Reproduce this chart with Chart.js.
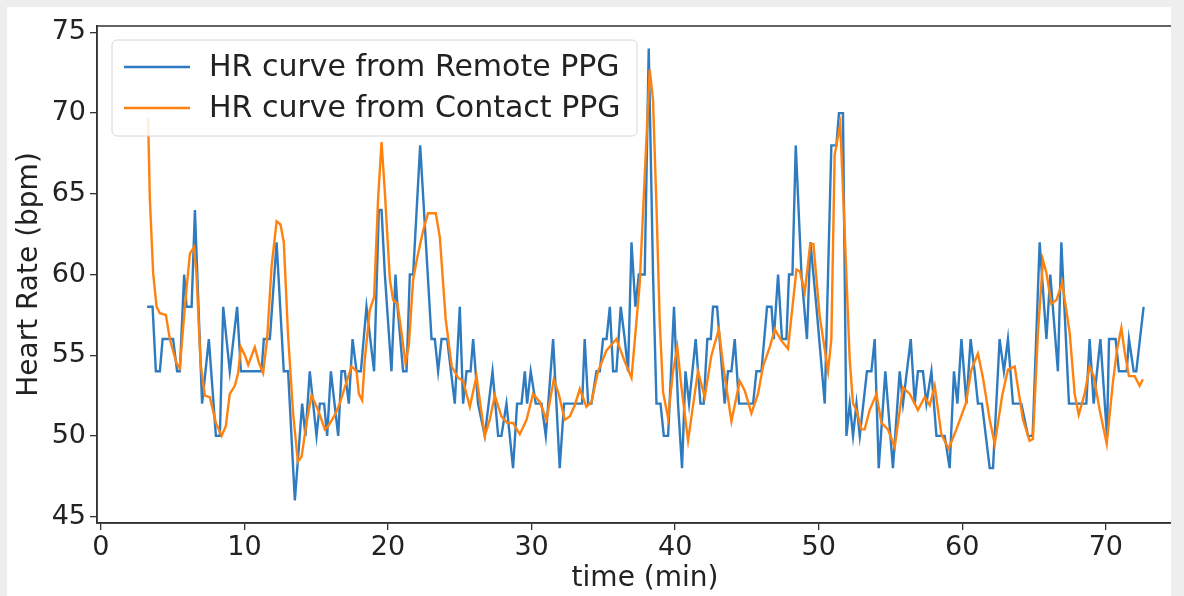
<!DOCTYPE html>
<html>
<head>
<meta charset="utf-8">
<script src="https://cdn.jsdelivr.net/npm/chart.js@4.4.1/dist/chart.umd.min.js"></script>
<style>
  html, body { margin: 0; padding: 0; background: #eeeeee; overflow: hidden; }
  #panel { position: absolute; left: 7px; top: 7px; width: 1164px; height: 589px; background: #fff; }
  #wrap { position: absolute; left: 0; top: 0; width: 1171px; height: 596px; overflow: hidden; }
</style>
</head>
<body>
<div id="panel"></div>
<div id="wrap"><canvas id="hrChart" width="1200" height="596"></canvas></div>
<script>
// HR curve from Remote PPG (time in minutes, bpm)
const remoteTime = [3.22,3.60,3.83,4.11,4.30,5.03,5.31,5.50,5.80,5.97,6.32,6.55,7.05,7.52,8.01,8.29,8.52,8.98,9.49,9.75,
  11.19,11.35,11.77,12.24,12.74,13.04,13.51,14.02,14.25,14.55,15.02,15.25,15.55,15.76,16.02,16.53,16.76,16.99,17.27,17.53,
  17.81,18.11,18.50,19.03,19.36,19.55,19.78,20.24,20.52,20.66,21.05,21.29,21.52,21.75,22.24,23.03,23.26,23.49,23.73,24.12,
  24.65,25.00,25.23,25.47,25.75,25.93,26.27,26.74,27.28,27.67,27.90,28.25,28.71,28.99,29.30,29.53,29.69,29.94,30.29,30.69,
  30.99,31.50,31.96,32.26,33.52,33.70,33.94,34.17,34.52,34.75,34.98,35.22,35.45,35.68,35.91,36.21,36.49,36.72,36.96,37.23,
  37.47,37.88,38.16,38.46,38.70,38.98,39.21,39.51,39.92,40.20,40.48,40.72,40.97,41.43,41.76,41.99,42.24,42.48,42.64,42.92,
  43.45,43.68,43.92,44.15,44.45,45.43,45.66,46.01,46.40,46.71,46.87,47.17,47.44,47.75,47.93,48.17,48.40,48.80,49.18,49.42,
  49.84,50.42,50.88,51.23,51.41,51.69,51.93,52.16,52.39,52.63,52.86,53.36,53.67,53.90,54.18,54.64,55.17,55.64,55.87,56.41,
  56.69,56.91,57.26,57.50,57.85,58.20,58.77,59.12,59.42,59.66,59.94,60.29,60.58,60.86,61.09,61.37,61.91,62.14,62.60,62.90,
  63.18,63.53,64.11,64.58,64.90,65.39,65.86,66.13,66.66,66.90,67.43,68.64,68.87,69.15,69.62,70.08,70.22,70.68,70.91,71.45,
  71.61,71.94,72.12,72.63];
const remoteHR = [58,58,54,54,56,56,54,54,60,58,58,64,52,56,50,50,58,54,58,54,
  54,56,56,62,54,54,46,52,50,54,50,52,52,50,54,50,54,54,52,56,
  54,54,58,54,64,64,60,54,60,58,54,54,60,60,68,56,56,54,56,56,
  52,58,52,54,54,56,52,50,54,50,50,52,48,52,52,54,52,54,52,52,
  50,56,48,52,52,56,52,52,54,54,56,56,58,54,54,58,56,54,62,58,
  60,60,74,60,52,52,50,50,58,52,48,54,52,56,52,52,56,56,58,58,
  52,54,54,56,52,52,54,54,58,58,56,60,56,56,60,60,68,60,56,62,
  58,52,68,68,70,70,50,52,50,52,50,54,54,56,48,54,48,54,52,56,
  52,54,54,52,54,50,50,48,54,52,56,52,56,54,52,52,48,48,56,54,
  56,52,52,50,50,62,56,60,54,62,52,52,56,52,56,50,56,56,54,54,
  56,54,54,58];

// HR curve from Contact PPG
const contactTime = [3.29,3.41,3.64,3.88,4.11,4.53,4.80,5.27,5.50,5.85,6.20,6.48,6.66,6.94,7.24,7.59,8.01,8.41,8.70,8.98,
  9.33,9.56,9.75,10.03,10.26,10.72,11.02,11.30,11.58,11.89,12.24,12.51,12.74,13.04,13.39,13.72,13.98,14.32,14.67,15.13,
  15.60,15.83,16.30,16.64,16.99,17.46,17.81,17.97,18.20,18.38,18.73,19.03,19.31,19.55,19.78,20.13,20.36,20.66,20.94,21.22,
  21.45,21.75,22.05,22.44,22.79,23.33,23.61,24.02,24.44,24.88,25.23,25.70,26.16,26.74,27.09,27.44,27.90,28.31,28.71,29.18,
  29.65,30.10,30.57,31.04,31.55,31.89,32.31,32.66,33.01,33.36,33.82,34.17,34.63,35.22,35.91,36.49,36.96,37.53,37.88,38.23,
  38.46,38.70,38.93,39.16,39.51,39.85,40.15,40.44,40.90,41.25,41.59,42.06,42.53,43.04,43.34,43.92,44.50,44.85,45.31,45.77,
  46.12,46.59,46.94,47.40,47.86,48.45,48.68,49.03,49.41,49.63,50.07,50.65,50.88,51.11,51.27,51.50,51.81,52.16,52.39,52.63,
  52.97,53.20,53.55,54.02,54.37,54.82,55.29,55.87,56.34,56.91,57.38,57.73,58.08,58.54,59.05,59.59,60.24,60.63,61.09,61.44,
  61.91,62.26,62.78,63.18,63.65,64.23,64.69,64.92,65.27,65.62,65.86,66.20,66.55,66.96,67.48,67.83,68.11,68.52,68.87,69.15,
  69.57,70.06,70.49,70.77,71.08,71.31,71.61,72.01,72.35,72.58];
const contactHR = [69.7,64.7,60.1,58.0,57.6,57.5,56.0,54.5,54.2,58.0,61.3,61.7,60.0,54.5,52.5,52.4,50.8,50.0,50.6,52.6,
  53.1,53.9,55.5,55.0,54.4,55.5,54.5,53.9,56.0,60.5,63.3,63.1,62.0,56.2,51.4,48.4,48.7,50.8,52.5,51.6,
  50.4,50.6,51.3,52.0,53.0,54.3,54.0,52.6,52.2,54.7,57.8,58.6,64.7,68.2,65.1,59.7,58.4,58.2,56.4,54.5,
  55.6,59.7,61.1,62.7,63.8,63.8,62.3,57.2,54.3,53.6,53.4,51.8,53.7,50.0,51.0,52.5,51.2,50.8,50.8,50.1,
  51.0,52.6,52.1,51.0,53.5,52.6,51.0,51.2,51.9,52.9,51.8,52.1,54.0,55.3,56.0,54.6,53.6,59.4,66.1,72.7,
  70.8,64.2,57.0,52.7,51.1,54.0,55.5,53.0,49.7,51.9,54.0,52.4,55.0,56.6,54.4,50.9,53.4,52.8,51.4,52.6,
  54.3,55.5,56.6,55.9,55.4,60.3,60.2,58.9,61.9,61.9,57.4,54.0,56.0,67.4,68.2,69.3,62.6,54.7,52.0,51.6,
  50.4,50.4,51.6,52.6,50.8,50.4,49.3,53.0,52.6,51.6,52.4,51.9,53.1,50.1,49.2,50.4,52.0,54.1,55.1,53.6,
  51.0,49.5,52.5,54.1,54.3,51.0,49.7,49.8,56.4,60.9,60.1,58.2,58.4,59.5,56.4,52.6,51.3,52.6,54.3,53.7,
  51.6,49.5,53.3,55.3,56.7,55.2,53.7,53.7,53.1,53.5];

const xTicks = [0, 10, 20, 30, 40, 50, 60, 70];
const yTicks = [45, 50, 55, 60, 65, 70, 75];

const toPoints = (ts, vs) => ts.map((t, i) => ({ x: t, y: vs[i] }));
const fontFamily = '"DejaVu Sans", sans-serif';
const textColor = '#222';

// matplotlib-like box around the axes plus an in-axes legend
const axesFrame = {
    id: 'axesFrame',
    afterDraw(chart) {
        const { ctx, chartArea: a } = chart;
        ctx.save();
        ctx.strokeStyle = '#333';
        ctx.lineWidth = 1.5;
        ctx.strokeRect(a.left, a.top, a.right - a.left, a.bottom - a.top);

        // legend box
        const bx = a.left + 15, by = a.top + 14, bw = 525, bh = 96;
        ctx.beginPath();
        if (ctx.roundRect) ctx.roundRect(bx, by, bw, bh, 5); else ctx.rect(bx, by, bw, bh);
        ctx.fillStyle = 'rgba(255,255,255,0.85)';
        ctx.fill();
        ctx.strokeStyle = '#d6d6d6';
        ctx.lineWidth = 1;
        ctx.stroke();

        ctx.font = '30px ' + fontFamily;
        ctx.textBaseline = 'middle';
        chart.data.datasets.forEach((ds, i) => {
            const yy = by + 27 + i * 41;
            ctx.strokeStyle = ds.borderColor;
            ctx.lineWidth = 2.4;
            ctx.beginPath();
            ctx.moveTo(bx + 12, yy);
            ctx.lineTo(bx + 78, yy);
            ctx.stroke();
            ctx.fillStyle = textColor;
            ctx.fillText(ds.label, bx + 97, yy + 1);
        });
        ctx.restore();
    }
};

const ctx = document.getElementById('hrChart').getContext('2d');
new Chart(ctx, {
    type: 'line',
    data: {
        datasets: [{
            label: 'HR curve from Remote PPG',
            data: toPoints(remoteTime, remoteHR),
            borderColor: '#2f7bbf',
            borderWidth: 2.4,
            pointRadius: 0,
            tension: 0,
            order: 2
        }, {
            label: 'HR curve from Contact PPG',
            data: toPoints(contactTime, contactHR),
            borderColor: '#ff820f',
            borderWidth: 2.4,
            pointRadius: 0,
            tension: 0,
            order: 1
        }]
    },
    options: {
        responsive: false,
        animation: false,
        layout: { padding: { left: 0, right: 7, top: 26, bottom: 0 } },
        plugins: {
            legend: { display: false },
            tooltip: { enabled: false }
        },
        scales: {
            x: {
                type: 'linear',
                min: -0.27,
                max: 76.07,
                afterBuildTicks: s => { s.ticks = xTicks.map(v => ({ value: v })); },
                afterFit: s => { s.height = 73; },
                grid: { drawOnChartArea: false, drawTicks: true, tickLength: 7, color: '#333', lineWidth: 1.3 },
                border: { display: true, color: '#333', width: 1.5 },
                ticks: { font: { family: fontFamily, size: 27 }, color: textColor, padding: 2, maxRotation: 0 },
                title: {
                    display: true,
                    text: 'time (min)',
                    font: { family: fontFamily, size: 28 },
                    color: textColor,
                    padding: { top: 0, bottom: 0 }
                }
            },
            y: {
                min: 44.6,
                max: 75.4,
                afterBuildTicks: s => { s.ticks = yTicks.map(v => ({ value: v })); },
                afterFit: s => { s.width = 97; },
                grid: { drawOnChartArea: false, drawTicks: true, tickLength: 7, color: '#333', lineWidth: 1.3 },
                border: { display: true, color: '#333', width: 1.5 },
                ticks: { font: { family: fontFamily, size: 27 }, color: textColor, padding: 4 },
                title: {
                    display: true,
                    text: 'Heart Rate (bpm)',
                    font: { family: fontFamily, size: 28 },
                    color: textColor,
                    padding: { top: 13, bottom: 0 }
                }
            }
        }
    },
    plugins: [axesFrame]
});
</script>
</body>
</html>
